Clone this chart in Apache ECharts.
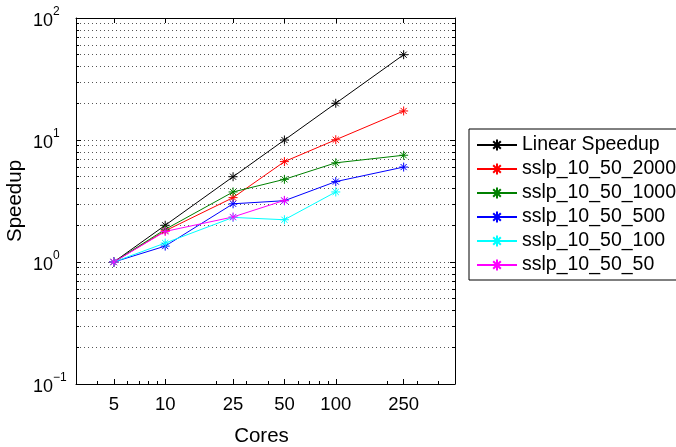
<!DOCTYPE html>
<html><head><meta charset="utf-8">
<script src="https://cdn.jsdelivr.net/npm/echarts@6/dist/echarts.min.js"></script>
<style>html,body{margin:0;padding:0;background:#fff}#c{width:676px;height:447px}</style>
</head><body><div id="c"></div>
<script>
const cores = [5, 10, 25, 50, 100, 250];
const linearSpeedup = [1, 2, 5, 10, 20, 50];
const sslp2000 = [1, 1.8, 3.37, 6.65, 10.05, 17.3];
const sslp1000 = [1, 1.85, 3.75, 4.76, 6.5, 7.5];
const sslp500 = [1, 1.35, 3.0, 3.18, 4.56, 6.0];
const sslp100 = [1, 1.43, 2.32, 2.22, 3.75];
const sslp50 = [1, 1.78, 2.34, 3.2];
const seriesNames = ['Linear Speedup', 'sslp_10_50_2000', 'sslp_10_50_1000', 'sslp_10_50_500', 'sslp_10_50_100', 'sslp_10_50_50'];
const seriesColors = ['#000000', '#ff0000', '#008000', '#0000ff', '#00ffff', '#ff00ff'];
const xTickValues = [5, 10, 25, 50, 100, 250];
const xMinorValues = [4, 6, 7, 8, 9, 20, 30, 40, 60, 70, 80, 90, 200, 300, 400];
const yTickValues = [0.1, 1, 10, 100];
const yMinorValues = [0.2, 0.3, 0.4, 0.5, 0.6, 0.7, 0.8, 0.9, 2, 3, 4, 5, 6, 7, 8, 9, 20, 30, 40, 50, 60, 70, 80, 90];
const xMin = 3, xMax = 500, yMin = 0.1, yMax = 100;

const allValues = [linearSpeedup, sslp2000, sslp1000, sslp500, sslp100, sslp50];
const star = 'path://M0,5L10,5M5,0L5,10M1.6,1.6L8.4,8.4M8.4,1.6L1.6,8.4';
const FONT = 'Liberation Sans, Arial, Helvetica, sans-serif';

const chart = echarts.init(document.getElementById('c'), null, {renderer: 'canvas'});
const gridLineStyle = {color: '#555', width: 1, type: [1, 3]};
const baseX = {type: 'log', logBase: 10, min: xMin, max: xMax, gridIndex: 0};
const baseY = {type: 'log', logBase: 10, min: yMin, max: yMax, gridIndex: 0};
const tickStyle = {color: '#000', width: 1};

const series = allValues.map((vals, i) => ({
  name: seriesNames[i],
  type: 'line',
  xAxisIndex: 0, yAxisIndex: 0,
  data: vals.map((v, j) => [cores[j], v]),
  symbol: star,
  symbolSize: 9,
  showAllSymbol: true,
  animation: false,
  lineStyle: {color: seriesColors[i], width: 1},
  itemStyle: {color: seriesColors[i], borderColor: seriesColors[i], borderWidth: 1},
  emphasis: {disabled: true}
}));

chart.setOption({
  animation: false,
  backgroundColor: '#fff',
  grid: {left: 76, top: 18, right: 221, bottom: 63, containLabel: false, outerBoundsMode: 'none'},
  xAxis: [
    Object.assign({}, baseX, {
      position: 'bottom',
      name: 'Cores', nameLocation: 'middle', nameGap: 42,
      nameTextStyle: {fontFamily: FONT, fontSize: 20.5, color: '#000', padding: [0, 8, 0, 0]},
      axisLine: {show: true, lineStyle: {color: '#000', width: 1}},
      axisTick: {show: true, inside: true, length: 5, customValues: xTickValues, lineStyle: tickStyle},
      axisLabel: {show: true, customValues: xTickValues, margin: 11, fontFamily: FONT, fontSize: 18.5, color: '#000', formatter: v => String(v)},
      splitLine: {show: false}
    }),
    Object.assign({}, baseX, {
      position: 'bottom',
      axisLine: {show: false},
      axisTick: {show: true, inside: true, length: 3, customValues: xMinorValues, lineStyle: tickStyle},
      axisLabel: {show: false},
      splitLine: {show: false}
    }),
    Object.assign({}, baseX, {
      position: 'top',
      axisLine: {show: true, lineStyle: {color: '#000', width: 1}},
      axisTick: {show: true, inside: true, length: 5, customValues: xTickValues, lineStyle: tickStyle},
      axisLabel: {show: false},
      splitLine: {show: false}
    })
  ],
  yAxis: [
    Object.assign({}, baseY, {
      position: 'left',
      name: 'Speedup', nameLocation: 'middle', nameGap: 50, nameRotate: 90, nameMoveOverlap: false,
      nameTextStyle: {fontFamily: FONT, fontSize: 20.5, color: '#000'},
      axisLine: {show: true, lineStyle: {color: '#000', width: 1}},
      axisTick: {show: true, inside: true, length: 5, customValues: yTickValues, lineStyle: tickStyle},
      axisLabel: {
        show: true, customValues: yTickValues, align: 'left', margin: 43,
        formatter: v => {
          const e = Math.round(Math.log10(v));
          return '{b|10}{s|' + (e < 0 ? '\u2212' + (-e) : e) + '}{h| }';
        },
        rich: {
          b: {fontFamily: FONT, fontSize: 18, color: '#000', lineHeight: 20, verticalAlign: 'bottom'},
          s: {fontFamily: FONT, fontSize: 12, color: '#000', lineHeight: 9, verticalAlign: 'top'},
          h: {fontSize: 1, lineHeight: 24}
        }
      },
      splitLine: {show: true, lineStyle: gridLineStyle}
    }),
    Object.assign({}, baseY, {
      position: 'left',
      axisLine: {show: false},
      axisTick: {show: true, inside: true, length: 3, customValues: yMinorValues, lineStyle: tickStyle},
      axisLabel: {show: false},
      splitLine: {show: true, lineStyle: gridLineStyle}
    }),
    Object.assign({}, baseY, {
      position: 'right',
      axisLine: {show: true, lineStyle: {color: '#000', width: 1}},
      axisTick: {show: true, inside: true, length: 5, customValues: yTickValues, lineStyle: tickStyle},
      axisLabel: {show: false},
      splitLine: {show: false}
    }),
    Object.assign({}, baseY, {
      position: 'right',
      axisLine: {show: false},
      axisTick: {show: true, inside: true, length: 3, customValues: yMinorValues, lineStyle: tickStyle},
      axisLabel: {show: false},
      splitLine: {show: false}
    })
  ],
  legend: {
    orient: 'vertical',
    left: 469, top: 129,
    data: seriesNames,
    backgroundColor: '#fff',
    borderColor: '#000', borderWidth: 1,
    padding: [6, 8, 5, 7],
    itemWidth: 40, itemHeight: 14, itemGap: 4,
    selectedMode: false,
    textStyle: {fontFamily: FONT, fontSize: 19.5, color: '#000', lineHeight: 19}
  },
  series: series
});
</script>
</body></html>
